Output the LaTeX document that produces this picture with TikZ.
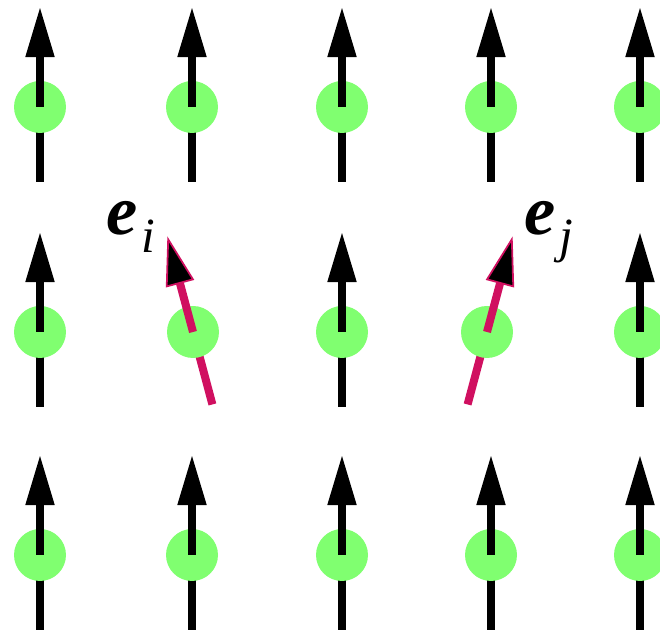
\documentclass[tikz,border=0pt]{standalone}
\usepackage{fontspec}
\newfontfamily\timesfont{Liberation Serif}
\usetikzlibrary{arrows.meta}
\definecolor{siteGreen}{RGB}{128,255,112}
\definecolor{tiltRed}{RGB}{208,16,96}
\tikzset{
    spinline/.style={line width=0.08cm},
    spinhead/.style={-{Triangle[width=0.29cm,length=0.49cm,line width=0.5pt,fill=black]}},
    spinlabel/.style={anchor=base west, inner sep=0pt, font=\timesfont},
}
% #1 site, #2 direction, #3 colour
\newcommand{\SpinAt}[3]{
    \draw[spinline,#3] (#1) -- ++(#2+180:75);
    \fill[siteGreen] (#1) circle (26);
    \draw[spinline,spinhead,#3] (#1) -- ++(#2:99);
}
\newcommand{\SpinVec}[1]{{\fontsize{20}{24}\selectfont\bfseries\itshape e}\hspace{1pt}\lower5pt\hbox{\fontsize{14}{16}\selectfont\itshape #1}}

\begin{document}
\begin{tikzpicture}[x=0.01cm, y=0.01cm]
    \useasboundingbox (0,0) rectangle (660,630);
    \foreach \r/\y in {1/523, 2/298, 3/75}{
        \foreach \c/\x in {1/40, 2/192, 3/342, 4/491, 5/640}{
            \coordinate (s-\r-\c) at (\x,\y);
        }
    }
    \coordinate (ti) at (193,298);
    \coordinate (tj) at (487,298);

    \foreach \r/\c in {1/1,1/2,1/3,1/4,1/5, 2/1,2/3,2/5, 3/1,3/2,3/3,3/4,3/5}{
        \SpinAt{s-\r-\c}{90}{black}
    }
    \SpinAt{ti}{105}{tiltRed}
    \SpinAt{tj}{75}{tiltRed}

    \node[spinlabel] (ei) at (106,395) {\SpinVec{i}};
    \node[spinlabel] (ej) at (524,395) {\SpinVec{j}};
\end{tikzpicture}
\end{document}
